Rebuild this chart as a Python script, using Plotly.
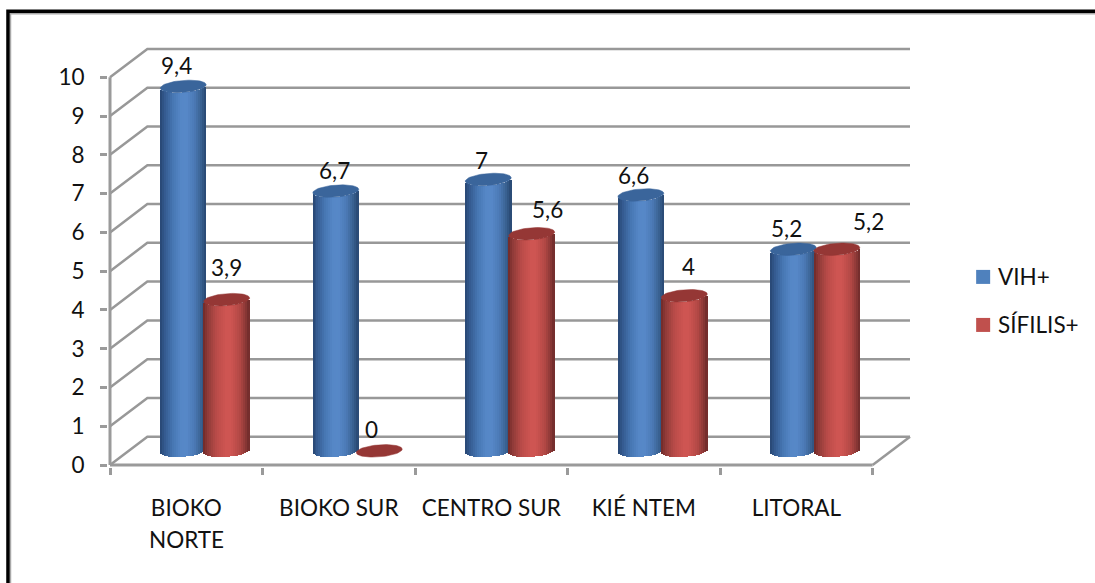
import numpy as np
import plotly.graph_objects as go

# Chart data
categories = [["BIOKO", "NORTE"], ["BIOKO SUR"], ["CENTRO SUR"], ["KIÉ NTEM"], ["LITORAL"]]
series_names = ["VIH+", "SÍFILIS+"]
vih_values = [9.4, 6.7, 7, 6.6, 5.2]
sifilis_values = [3.9, 0, 5.6, 4, 5.2]

# Hand-placed value labels, as pixel nudges from the top of each cylinder
vih_label_nudge = [(-7, 21), (-1, 21), (-7, 19), (-7, 19), (-7, 21)]
sifilis_label_nudge = [(0, 32), (-8, 21), (16, 24), (4, 29), (32, 28)]

WIDTH, HEIGHT = 1095, 583
FONT = "Lato"
TEXT_SIZE = 22.5
TEXT_COLOR = "#111111"
GRID = "#989898"
AXIS = "#9a9a9a"

# Front plane of the box, in pixels per data unit
X_ORIGIN, Y_ORIGIN = 110, 465
PX_PER_CAT, PX_PER_UNIT = 152.5, 38.75
PAD = 2

# Oblique projection: how far the back wall sits from the front plane, in data units
DEPTH_X, DEPTH_Y = 0.245, 0.73
BAR_DEPTH = 0.5
BAR_WIDTH = 0.3015
BAR_OFFSET = 0.1425
CAP_HEIGHT = 0.155
CAP_TILT = 0.044
SLICES = 23

X_RANGE = [-PAD / PX_PER_CAT, 5 + DEPTH_X + PAD / PX_PER_CAT]
Y_RANGE = [-PAD / PX_PER_UNIT, 10 + DEPTH_Y + PAD / PX_PER_UNIT]
LEFT = X_ORIGIN - PAD
RIGHT = X_ORIGIN + (5 + DEPTH_X) * PX_PER_CAT + PAD
BOTTOM = Y_ORIGIN + PAD
TOP = Y_ORIGIN - (10 + DEPTH_Y) * PX_PER_UNIT - PAD

SHADES = {
    "VIH+": {
        "cap": "#3A659B",
        "swatch": "#4F81BD",
        "stops": [(-1, "#274672"), (-0.8, "#345A8F"), (-0.45, "#4676B2"), (-0.1, "#5587C6"),
                  (0.15, "#5788C8"), (0.5, "#4B79B5"), (0.8, "#38608F"), (1, "#274770")],
    },
    "SÍFILIS+": {
        "cap": "#953735",
        "swatch": "#C0504D",
        "stops": [(-1, "#6E2A28"), (-0.8, "#8F3A38"), (-0.4, "#BB4C49"), (0, "#CE5552"),
                  (0.2, "#CE5552"), (0.6, "#B24845"), (0.85, "#8A3836"), (1, "#6D2A29")],
    },
}


def shade(stops, u):
    pos = [s[0] for s in stops]
    rgb = np.array([[int(s[1][i:i + 2], 16) for i in (1, 3, 5)] for s in stops])
    return "rgb({:.0f},{:.0f},{:.0f})".format(*[np.interp(u, pos, rgb[:, c]) for c in range(3)])


def px_x(px):
    return (px - LEFT) / (RIGHT - LEFT)


def px_y(px):
    return (BOTTOM - px) / (BOTTOM - TOP)


fig = go.Figure()

# Slanted side wall, floor and back wall
wall_style = dict(mode="lines", line=dict(color=GRID, width=2.5), hoverinfo="skip", showlegend=False)
for level in range(0, 11):
    fig.add_trace(go.Scatter(x=[0, DEPTH_X, 5 + DEPTH_X],
                             y=[level, level + DEPTH_Y, level + DEPTH_Y], **wall_style))
fig.add_trace(go.Scatter(x=[5, 5 + DEPTH_X], y=[0, DEPTH_Y], **wall_style))

# Front axis lines
axis_style = dict(mode="lines", line=dict(color=AXIS, width=3), hoverinfo="skip", showlegend=False)
fig.add_trace(go.Scatter(x=[0, 0], y=[0, 10], **axis_style))
fig.add_trace(go.Scatter(x=[0, 5], y=[0, 0], **axis_style))


def add_cylinders(name, values, offset, xaxis, yaxis):
    style = SHADES[name]
    centers = np.arange(len(values)) + 0.5 + BAR_DEPTH * DEPTH_X + offset
    floor = BAR_DEPTH * DEPTH_Y
    step = 2 / SLICES
    for k in range(SLICES):
        u = -1 + step * (k + 0.5)
        drop = CAP_HEIGHT * np.sqrt(1 - u ** 2) - CAP_TILT * u
        fig.add_trace(go.Bar(
            x=centers + u * BAR_WIDTH / 2, y=values, base=[floor - drop] * len(values),
            width=BAR_WIDTH / SLICES * 1.25, marker=dict(color=shade(style["stops"], u), line_width=0),
            xaxis=xaxis, yaxis=yaxis, showlegend=False, hoverinfo="skip",
        ))
    t = np.linspace(0, 2 * np.pi, 61)
    for cx, v in zip(centers, values):
        fig.add_trace(go.Scatter(
            x=cx + BAR_WIDTH / 2 * np.cos(t),
            y=v + floor + CAP_HEIGHT * np.sin(t) + CAP_TILT * np.cos(t),
            mode="lines", fill="toself", fillcolor=style["cap"], line=dict(color=style["cap"], width=0.5),
            xaxis=xaxis, yaxis=yaxis, showlegend=False, hoverinfo="skip",
        ))
    return centers, floor


annotations = []


def add_value_labels(values, centers, floor, nudges):
    for cx, v, (dx, dy) in zip(centers, values, nudges):
        annotations.append(dict(
            x=cx, y=v + floor, xref="x", yref="y", xshift=dx, yshift=dy,
            text=f"{v:g}".replace(".", ","), showarrow=False,
            font=dict(family=FONT, size=TEXT_SIZE, color=TEXT_COLOR),
        ))


# Each series lives on its own overlay so the red cylinders stack over the blue ones
c_vih, floor = add_cylinders(series_names[0], vih_values, -BAR_OFFSET, "x2", "y2")
c_sif, floor = add_cylinders(series_names[1], sifilis_values, BAR_OFFSET, "x3", "y3")
add_value_labels(vih_values, c_vih, floor, vih_label_nudge)
add_value_labels(sifilis_values, c_sif, floor, sifilis_label_nudge)

# Second line of the wrapped category label
for i, rows in enumerate(categories):
    for row in rows[1:]:
        annotations.append(dict(x=i + 0.5, y=px_y(539), xref="x", yref="paper",
                                xanchor="center", yanchor="middle", text=row, showarrow=False,
                                font=dict(family=FONT, size=TEXT_SIZE, color=TEXT_COLOR)))

# Legend entries
shapes = []
for name, top_px, mid_px in zip(series_names, [270, 318], [277, 325]):
    shapes.append(dict(type="rect", xref="paper", yref="paper", x0=px_x(976), x1=px_x(990),
                       y0=px_y(top_px), y1=px_y(top_px + 14), fillcolor=SHADES[name]["swatch"], line_width=0))
    annotations.append(dict(x=px_x(996), y=px_y(mid_px), xref="paper", yref="paper",
                            xanchor="left", yanchor="middle", text=name, showarrow=False,
                            font=dict(family=FONT, size=TEXT_SIZE, color=TEXT_COLOR)))

# Outer frame: black edge with a thin grey inner edge, open to the right and below
shapes.append(dict(type="path", xref="paper", yref="paper",
                   path=f"M {px_x(10.5)} {px_y(590)} L {px_x(10.5)} {px_y(14)} L {px_x(1100)} {px_y(14)}",
                   line=dict(color="#a8a8a8", width=1.5)))
shapes.append(dict(type="path", xref="paper", yref="paper",
                   path=f"M {px_x(8)} {px_y(590)} L {px_x(8)} {px_y(11.5)} L {px_x(1100)} {px_y(11.5)}",
                   line=dict(color="#000000", width=3.5)))

hidden_x = dict(range=X_RANGE, visible=False, overlaying="x", fixedrange=True)
hidden_y = dict(range=Y_RANGE, visible=False, overlaying="y", fixedrange=True)

fig.update_layout(
    width=WIDTH, height=HEIGHT, autosize=False,
    margin=dict(l=LEFT, r=WIDTH - RIGHT, t=TOP, b=HEIGHT - BOTTOM, autoexpand=False),
    paper_bgcolor="white", plot_bgcolor="rgba(0,0,0,0)",
    barmode="overlay", bargap=0, showlegend=False, hovermode=False,
    font=dict(family=FONT, size=TEXT_SIZE, color=TEXT_COLOR),
    shapes=shapes, annotations=annotations,
    xaxis=dict(
        range=X_RANGE, tickmode="array", tickvals=[i + 0.5 for i in range(len(categories))],
        ticktext=[rows[0] for rows in categories], ticks="", ticklabelstandoff=25,
        showgrid=False, zeroline=False, showline=False, fixedrange=True,
        minor=dict(tickmode="array", tickvals=list(range(6)), ticks="outside", ticklen=7, tickwidth=3, tickcolor=AXIS),
    ),
    yaxis=dict(
        range=Y_RANGE, tickmode="array", tickvals=list(range(11)), ticktext=[str(i) for i in range(11)],
        ticks="outside", ticklen=7, tickwidth=3, tickcolor=AXIS, ticklabelstandoff=11,
        showgrid=False, zeroline=False, showline=False, fixedrange=True,
    ),
    xaxis2=hidden_x, yaxis2=hidden_y, xaxis3=hidden_x, yaxis3=hidden_y,
)

fig.write_html("out.html", config={"displayModeBar": False})
